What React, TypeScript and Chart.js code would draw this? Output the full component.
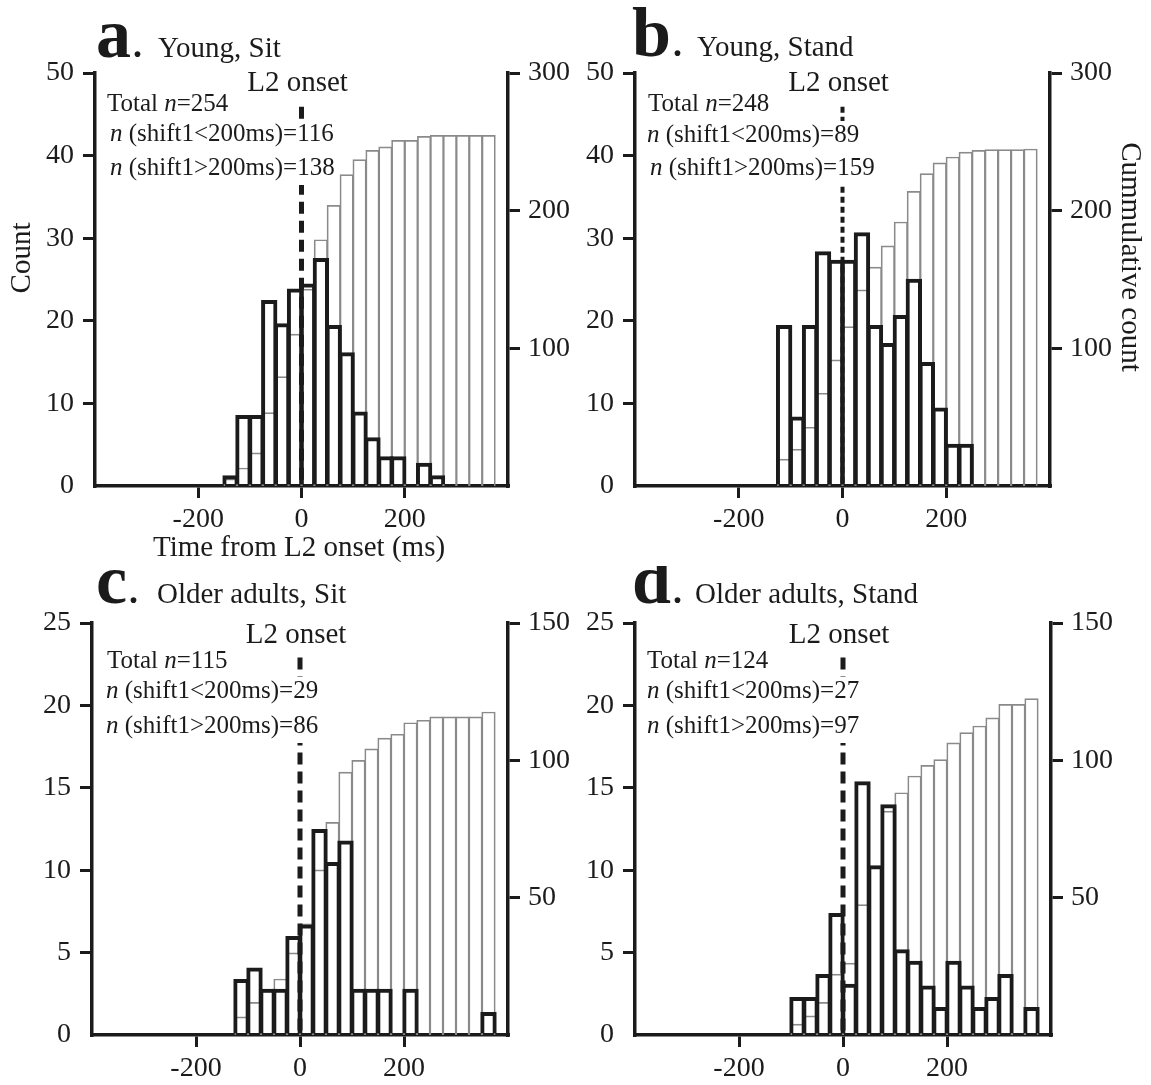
import React, { useEffect, useRef } from 'react';
import { Chart, registerables } from 'chart.js';

Chart.register(...registerables);

const SERIF = "'Liberation Serif', 'Times New Roman', Times, serif";
const INK = '#1b1b1b';
const GRAY = '#8a8a8a';

// ---- data: histogram bins are 25 ms wide, values are bin starts (ms) ----
const BIN_MS = 25;

const binStartsA = [-150, -125, -100, -75, -50, -25, 0, 25, 50, 75, 100, 125, 150, 175, 200, 225, 250, 275, 300, 325, 350];
const countsA = [1.1, 8.4, 8.4, 22.3, 19.5, 23.7, 24.3, 27.4, 19.3, 16.0, 8.8, 5.7, 3.4, 3.4, 0, 2.6, 1.1, 0, 0, 0, 0];
const cumulativeA = [5, 12.9, 23.9, 53.1, 79.3, 110.1, 142.8, 178.7, 203.6, 226, 236.9, 243.6, 246.1, 250.9, 250.9, 253.8, 254.5, 254.5, 254.5, 254.5, 254.5];

const binStartsB = [-125, -100, -75, -50, -25, 0, 25, 50, 75, 100, 125, 150, 175, 200, 225, 250, 275, 300, 325, 350];
const countsB = [19.3, 8.2, 19.3, 28.2, 27.2, 27.2, 30.5, 19.3, 17.1, 20.5, 24.9, 14.8, 9.3, 4.9, 4.9, 0, 0, 0, 0, 0];
const cumulativeB = [19.4, 26.5, 42.5, 67.2, 91.4, 115.6, 142.3, 158.8, 174.3, 191.6, 213.8, 226.7, 234.5, 238.8, 242.4, 243.6, 244.1, 244.1, 244.1, 244.6];

const binStartsC = [-125, -100, -75, -50, -25, 0, 25, 50, 75, 100, 125, 150, 175, 200, 225, 250, 275, 300, 325, 350];
const countsC = [3.3, 4.0, 2.7, 2.7, 5.9, 6.6, 12.4, 10.4, 11.7, 2.7, 2.7, 2.7, 0, 2.7, 0, 0, 0, 0, 0, 1.3];
const cumulativeC = [6.5, 11.8, 16.0, 20.3, 29.8, 40.4, 60.0, 77.3, 95.6, 99.9, 104.1, 108.0, 109.4, 113.6, 114.5, 115.7, 115.7, 115.7, 115.7, 117.5];

const binStartsD = [-100, -75, -50, -25, 0, 25, 50, 75, 100, 125, 150, 175, 200, 225, 250, 275, 300, 325, 350];
const countsD = [2.2, 2.2, 3.6, 7.3, 3.0, 15.3, 10.2, 13.9, 5.1, 4.4, 2.9, 1.6, 4.4, 2.9, 1.6, 2.2, 3.6, 0, 1.6];
const cumulativeD = [3.9, 6.9, 11.8, 22.1, 26.1, 47.4, 61.4, 81.4, 88.1, 94.2, 98.1, 100.2, 106.3, 110.0, 112.4, 115.4, 120.3, 120.3, 122.4];

const panelLetters = ['a', 'b', 'c', 'd'];
const panelTitles = ['Young, Sit', 'Young, Stand', 'Older adults, Sit', 'Older adults, Stand'];
const totalN = [254, 248, 115, 124];
const nBelow200 = [116, 89, 29, 27];
const nAbove200 = [138, 159, 86, 97];

const xTicks = [-200, 0, 200];
const countTicksYoung = [0, 10, 20, 30, 40, 50];
const cumTicksYoung = [100, 200, 300];
const countTicksOlder = [0, 5, 10, 15, 20, 25];
const cumTicksOlder = [50, 100, 150];

const X_MIN = -400;
const X_MAX = 400;
const ONSET_MS = 0;

// ---- layout (page coordinates) ----
const FRAMES = [
  { left: 0, top: 0, width: 575, height: 566, area: { l: 95, r: 508, t: 73, b: 486 } },
  { left: 575, top: 0, width: 576, height: 566, area: { l: 635, r: 1050, t: 73, b: 486 } },
  { left: 0, top: 566, width: 575, height: 519, area: { l: 92, r: 508, t: 623, b: 1035 } },
  { left: 575, top: 566, width: 576, height: 519, area: { l: 635, r: 1051, t: 623, b: 1035 } },
];

const TEXTPOS = [
  { onsetY: 91, x1: 107, y1: 111, x2: 110, y2: 141, x3: 110, y3: 175, letterX: 96, titleX: 158, titleY: 57 },
  { onsetY: 91, x1: 648, y1: 111, x2: 647, y2: 142, x3: 650, y3: 175, letterX: 632, titleX: 697, titleY: 56 },
  { onsetY: 643, x1: 107, y1: 668, x2: 106, y2: 698, x3: 106, y3: 733, letterX: 96, titleX: 157, titleY: 603 },
  { onsetY: 643, x1: 647, y1: 668, x2: 647, y2: 698, x3: 647, y3: 733, letterX: 632, titleX: 695, titleY: 603 },
];

const ONSET_STYLE = [
  { width: 5, dash: [12, 7], topFrac: 0.918 },
  { width: 4, dash: [6, 4], topFrac: 0.918 },
  { width: 5, dash: [12, 7], topFrac: 0.916 },
  { width: 5, dash: [12, 7], topFrac: 0.916 },
];

const AXIS_TITLES = [
  { left: { text: 'Count', x: 22, y: 258 }, bottom: { text: 'Time from L2 onset (ms)', x: 299, y: 556 }, right: null },
  { left: null, bottom: null, right: { text: 'Cummulative count', x: 1130, y: 257 } },
  { left: null, bottom: null, right: null },
  { left: null, bottom: null, right: null },
];

const PANELS = [
  { bins: binStartsA, counts: countsA, cumulative: cumulativeA, countTicks: countTicksYoung, cumTicks: cumTicksYoung, countMax: 50, cumMax: 300 },
  { bins: binStartsB, counts: countsB, cumulative: cumulativeB, countTicks: countTicksYoung, cumTicks: cumTicksYoung, countMax: 50, cumMax: 300 },
  { bins: binStartsC, counts: countsC, cumulative: cumulativeC, countTicks: countTicksOlder, cumTicks: cumTicksOlder, countMax: 25, cumMax: 150 },
  { bins: binStartsD, counts: countsD, cumulative: cumulativeD, countTicks: countTicksOlder, cumTicks: cumTicksOlder, countMax: 25, cumMax: 150 },
];

function makeTextPlugin(i: number) {
  const frame = FRAMES[i];
  const tp = TEXTPOS[i];
  const titles = AXIS_TITLES[i];
  return {
    id: 'panelText' + i,
    afterDatasetsDraw(chart: any) {
      const ctx: CanvasRenderingContext2D = chart.ctx;
      const ox = frame.left;
      const oy = frame.top;
      const xs = chart.scales.x;
      ctx.save();
      ctx.fillStyle = INK;
      ctx.textBaseline = 'alphabetic';

      // L2 onset label
      ctx.font = `29px ${SERIF}`;
      ctx.textAlign = 'center';
      ctx.fillText('L2 onset', xs.getPixelForValue(ONSET_MS) - 4, tp.onsetY - oy);

      // stats text
      ctx.textAlign = 'left';
      const fs = 25;
      const normal = `${fs}px ${SERIF}`;
      const ital = `italic ${fs}px ${SERIF}`;
      const line1: [string, string][] = [['Total ', normal], ['n', ital], ['=' + totalN[i], normal]];
      const line2: [string, string][] = [['n', ital], [' (shift1<200ms)=' + nBelow200[i], normal]];
      const line3: [string, string][] = [['n', ital], [' (shift1>200ms)=' + nAbove200[i], normal]];
      const measure = (segs: [string, string][]) =>
        segs.reduce((w, [t, f]) => {
          ctx.font = f;
          return w + ctx.measureText(t).width;
        }, 0);
      const drawSegs = (segs: [string, string][], x: number, y: number) => {
        let cx = x;
        for (const [t, f] of segs) {
          ctx.font = f;
          ctx.fillText(t, cx, y);
          cx += ctx.measureText(t).width;
        }
      };
      const w = Math.max(measure(line2), measure(line3));
      ctx.fillStyle = '#ffffff';
      ctx.fillRect(tp.x2 - ox - 2, tp.y2 - oy - 21, w + 6, tp.y3 - tp.y2 + 31);
      ctx.fillStyle = INK;
      drawSegs(line1, tp.x1 - ox, tp.y1 - oy);
      drawSegs(line2, tp.x2 - ox, tp.y2 - oy);
      drawSegs(line3, tp.x3 - ox, tp.y3 - oy);

      // panel title
      ctx.font = `bold 70px ${SERIF}`;
      ctx.fillText(panelLetters[i], tp.letterX - ox, tp.titleY - oy);
      const lw = ctx.measureText(panelLetters[i]).width;
      ctx.font = `bold 36px ${SERIF}`;
      ctx.fillText('.', tp.letterX - ox + lw + 2, tp.titleY - oy);
      ctx.font = `29px ${SERIF}`;
      ctx.fillText(panelTitles[i], tp.titleX - ox, tp.titleY - oy);

      // axis titles
      if (titles.left) {
        ctx.save();
        ctx.translate(titles.left.x - ox, titles.left.y - oy);
        ctx.rotate(-Math.PI / 2);
        ctx.textAlign = 'center';
        ctx.textBaseline = 'middle';
        ctx.font = `29px ${SERIF}`;
        ctx.fillText(titles.left.text, 0, 0);
        ctx.restore();
      }
      if (titles.right) {
        ctx.save();
        ctx.translate(titles.right.x - ox, titles.right.y - oy);
        ctx.rotate(Math.PI / 2);
        ctx.textAlign = 'center';
        ctx.textBaseline = 'middle';
        ctx.font = `29px ${SERIF}`;
        ctx.fillText(titles.right.text, 0, 0);
        ctx.restore();
      }
      if (titles.bottom) {
        ctx.textAlign = 'center';
        ctx.font = `29px ${SERIF}`;
        ctx.fillText(titles.bottom.text, titles.bottom.x - ox, titles.bottom.y - oy);
      }
      ctx.restore();
    },
  };
}

function buildConfig(i: number): any {
  const p = PANELS[i];
  const frame = FRAMES[i];
  const a = frame.area;
  const onset = ONSET_STYLE[i];
  const black = p.bins.map((b, k) => ({ x: b + BIN_MS / 2, y: p.counts[k] === 0 ? null : p.counts[k] }));
  const gray = p.bins.map((b, k) => ({ x: b + BIN_MS / 2, y: p.cumulative[k] }));
  const tickFont = { family: SERIF, size: 28 };
  const hideZero = (c: any) => (c.tick && c.tick.value === 0 ? 'rgba(0,0,0,0)' : INK);

  return {
    type: 'bar',
    data: {
      datasets: [
        {
          type: 'line',
          data: [
            { x: ONSET_MS, y: p.countMax * onset.topFrac },
            { x: ONSET_MS, y: 0 },
          ],
          borderColor: INK,
          borderWidth: onset.width,
          borderDash: onset.dash,
          borderCapStyle: 'butt',
          pointRadius: 0,
          fill: false,
          xAxisID: 'x',
          yAxisID: 'y',
          order: 0,
        },
        {
          type: 'bar',
          data: black,
          xAxisID: 'x',
          yAxisID: 'y',
          backgroundColor: 'rgba(0,0,0,0)',
          borderColor: INK,
          borderWidth: 0.6,
          inflateAmount: 1.7,
          grouped: false,
          barPercentage: 1,
          categoryPercentage: 1,
          order: 1,
        },
        {
          type: 'bar',
          data: gray,
          xAxisID: 'x',
          yAxisID: 'y2',
          backgroundColor: 'rgba(0,0,0,0)',
          borderColor: GRAY,
          borderWidth: 0.5,
          inflateAmount: 0.6,
          grouped: false,
          barPercentage: 1,
          categoryPercentage: 1,
          order: 2,
        },
      ],
    },
    options: {
      responsive: false,
      animation: false,
      devicePixelRatio: 1,
      layout: { padding: { top: a.t - frame.top, left: 0, right: 0, bottom: 0 } },
      plugins: { legend: { display: false }, tooltip: { enabled: false }, title: { display: false } },
      scales: {
        x: {
          type: 'linear',
          min: X_MIN,
          max: X_MAX,
          offset: false,
          afterBuildTicks: (s: any) => {
            s.ticks = xTicks.map((v) => ({ value: v }));
          },
          afterFit: (s: any) => {
            s.height = frame.top + frame.height - a.b;
          },
          grid: { offset: false, drawOnChartArea: false, drawTicks: true, tickLength: 12, lineWidth: 3, color: INK },
          border: { display: true, width: 3.5, color: INK },
          ticks: { font: tickFont, color: INK, padding: 5, maxRotation: 0, autoSkip: false, callback: (v: any) => String(v) },
        },
        y: {
          type: 'linear',
          position: 'left',
          min: 0,
          max: p.countMax,
          afterBuildTicks: (s: any) => {
            s.ticks = p.countTicks.map((v) => ({ value: v }));
          },
          afterFit: (s: any) => {
            s.width = a.l - frame.left;
          },
          grid: { drawOnChartArea: false, drawTicks: true, tickLength: 12, lineWidth: 3, color: hideZero },
          border: { display: true, width: 3.5, color: INK },
          ticks: { font: tickFont, color: INK, padding: 9, callback: (v: any) => String(v) },
        },
        y2: {
          type: 'linear',
          position: 'right',
          min: 0,
          max: p.cumMax,
          afterBuildTicks: (s: any) => {
            s.ticks = p.cumTicks.map((v) => ({ value: v }));
          },
          afterFit: (s: any) => {
            s.width = frame.left + frame.width - a.r;
          },
          grid: { drawOnChartArea: false, drawTicks: true, tickLength: 12, lineWidth: 3, color: INK },
          border: { display: true, width: 3.5, color: INK },
          ticks: { font: tickFont, color: INK, padding: 8, callback: (v: any) => String(v) },
        },
      },
    },
    plugins: [makeTextPlugin(i)],
  };
}

function Panel({ index }: { index: number }) {
  const ref = useRef<HTMLCanvasElement>(null);
  const frame = FRAMES[index];
  useEffect(() => {
    if (!ref.current) return;
    const chart = new Chart(ref.current, buildConfig(index));
    return () => chart.destroy();
  }, [index]);
  return (
    <canvas
      ref={ref}
      width={frame.width}
      height={frame.height}
      style={{ position: 'absolute', left: frame.left, top: frame.top, width: frame.width, height: frame.height }}
    />
  );
}

export default function App() {
  return (
    <div style={{ position: 'absolute', left: 0, top: 0, width: 1151, height: 1085, background: '#ffffff', overflow: 'hidden' }}>
      {PANELS.map((_, i) => (
        <Panel key={i} index={i} />
      ))}
    </div>
  );
}
